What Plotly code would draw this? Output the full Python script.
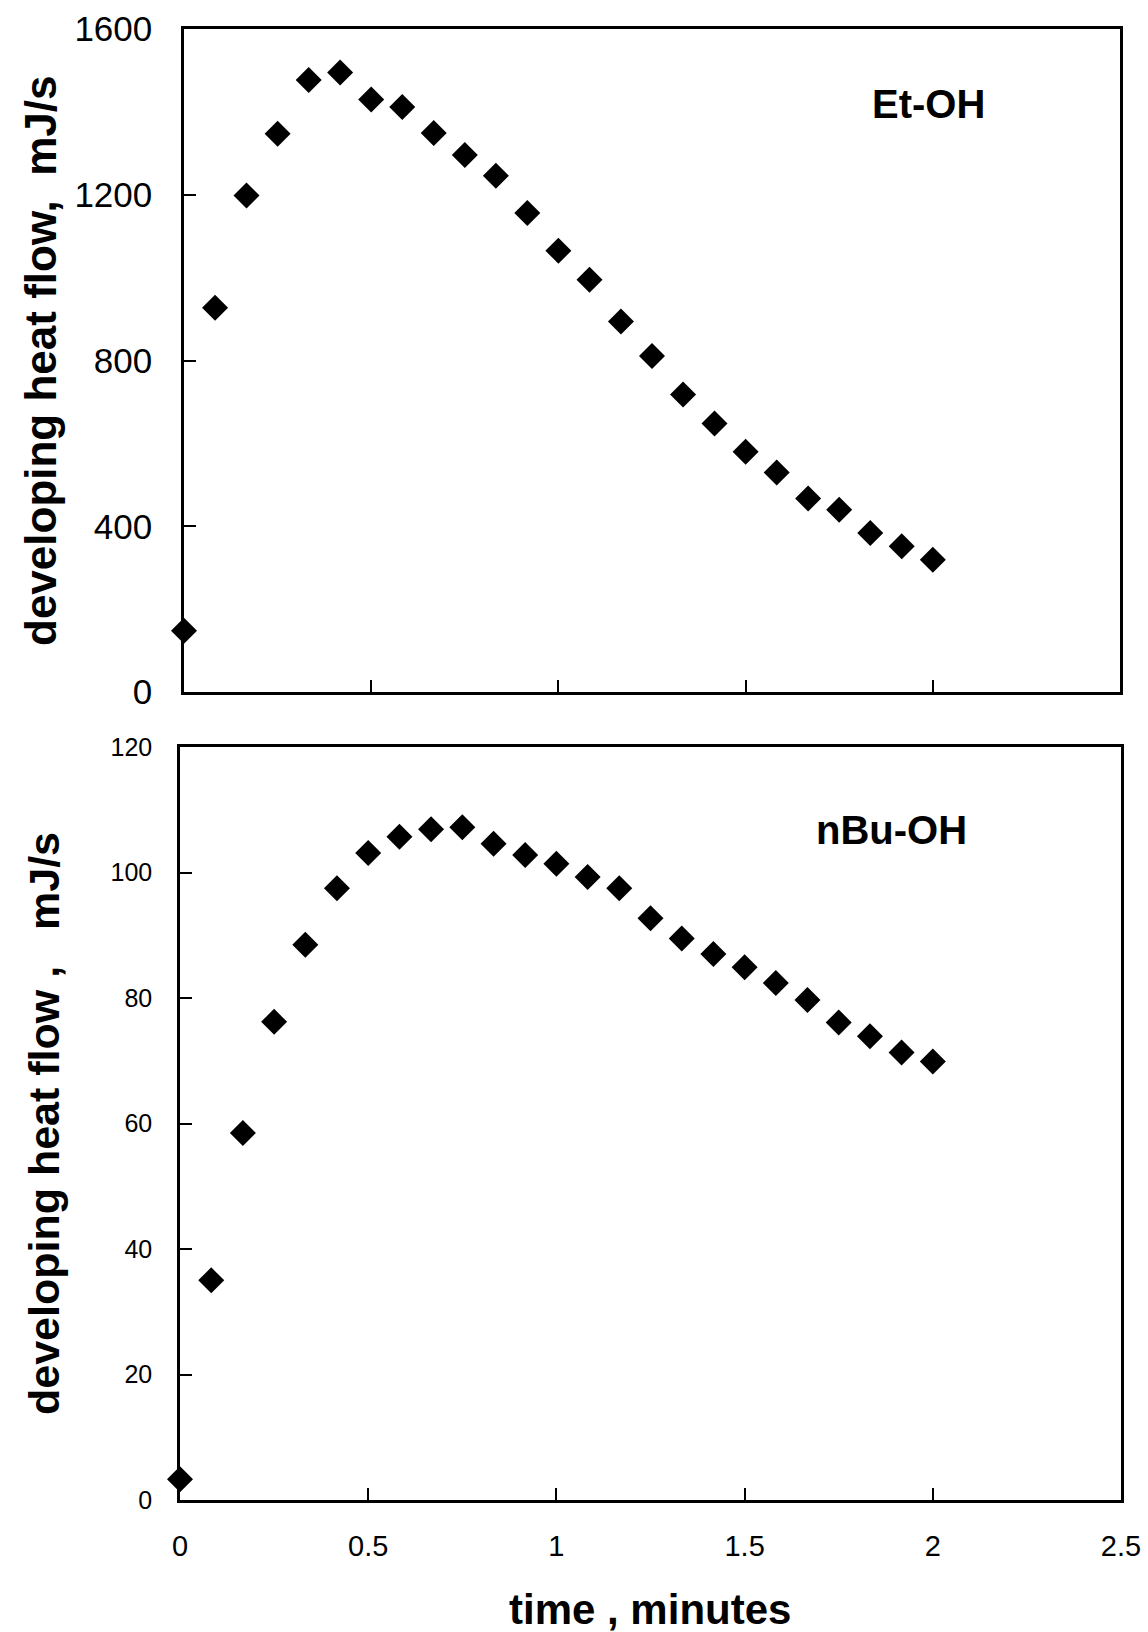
import plotly.graph_objects as go

# time axis, minutes (one reading every 5 s)
time_min = [0, 0.083, 0.167, 0.25, 0.333, 0.417, 0.5, 0.583, 0.667, 0.75,
            0.833, 0.917, 1.0, 1.083, 1.167, 1.25, 1.333, 1.417, 1.5, 1.583,
            1.667, 1.75, 1.833, 1.917, 2.0]

# developing heat flow, mJ/s
etoh_flow = [148, 927, 1198, 1347, 1477, 1495, 1430, 1412, 1349, 1296,
             1246, 1156, 1065, 995, 894, 811, 718, 648, 580, 530,
             467, 440, 384, 352, 319]
nbuoh_flow = [3.3, 35.0, 58.5, 76.2, 88.5, 97.5, 103.1, 105.7, 106.9, 107.2,
              104.6, 102.8, 101.4, 99.3, 97.5, 92.7, 89.5, 87.0, 84.9, 82.4,
              79.7, 76.1, 73.9, 71.3, 69.9]

W, H = 1148, 1632

marker = dict(symbol="diamond", size=20, color="black", line=dict(width=0))

fig = go.Figure()
fig.add_trace(go.Scatter(x=time_min, y=etoh_flow, mode="markers", marker=marker,
                         xaxis="x", yaxis="y", cliponaxis=False, showlegend=False))
fig.add_trace(go.Scatter(x=time_min, y=nbuoh_flow, mode="markers", marker=marker,
                         xaxis="x2", yaxis="y2", cliponaxis=False, showlegend=False))

axis_common = dict(showline=True, linecolor="black", linewidth=2.5, mirror=True,
                   ticks="inside", ticklen=12, tickwidth=2, tickcolor="black",
                   showgrid=False, zeroline=False, automargin=False)

fig.update_layout(
    width=W, height=H,
    margin=dict(l=0, r=0, t=0, b=0),
    paper_bgcolor="white", plot_bgcolor="white",
    font=dict(family="Arial", color="black"),
    xaxis=dict(domain=[184 / W, 1120 / W], range=[0, 2.5], dtick=0.5,
               showticklabels=False, anchor="y", **axis_common),
    yaxis=dict(domain=[1 - 692 / H, 1 - 29 / H], range=[0, 1600], dtick=400,
               tickfont=dict(size=35), ticklabelstandoff=22, anchor="x",
               **axis_common),
    xaxis2=dict(domain=[180 / W, 1121 / W], range=[0, 2.5], dtick=0.5,
                tickfont=dict(size=29), ticklabelstandoff=18,
                anchor="y2", **axis_common),
    yaxis2=dict(domain=[1 - 1500 / H, 1 - 747 / H], range=[0, 120], dtick=20,
                tickfont=dict(size=25), ticklabelstandoff=20, anchor="x2",
                **axis_common),
)

annotations = [
    dict(text="<b>developing heat flow,  mJ/s</b>", x=40 / W, y=1 - 361 / H,
         textangle=-90, font=dict(size=44)),
    dict(text="<b>developing heat flow ,   mJ/s</b>", x=44 / W, y=1 - 1124 / H,
         textangle=-90, font=dict(size=43)),
    dict(text="<b>time , minutes</b>", x=650 / W, y=1 - 1609 / H,
         font=dict(size=42)),
    dict(text="<b>Et-OH</b>", x=928 / W, y=1 - 104 / H, font=dict(size=40)),
    dict(text="<b>nBu-OH</b>", x=891 / W, y=1 - 830 / H, font=dict(size=40)),
]
for a in annotations:
    fig.add_annotation(xref="paper", yref="paper", showarrow=False,
                       xanchor="center", yanchor="middle", **a)

# drop the browser's default body margin so the figure fills the window
fig.write_html("out.html", config={"displayModeBar": False},
               post_script="document.body.style.margin='0';"
                           "document.body.style.overflow='hidden';")
